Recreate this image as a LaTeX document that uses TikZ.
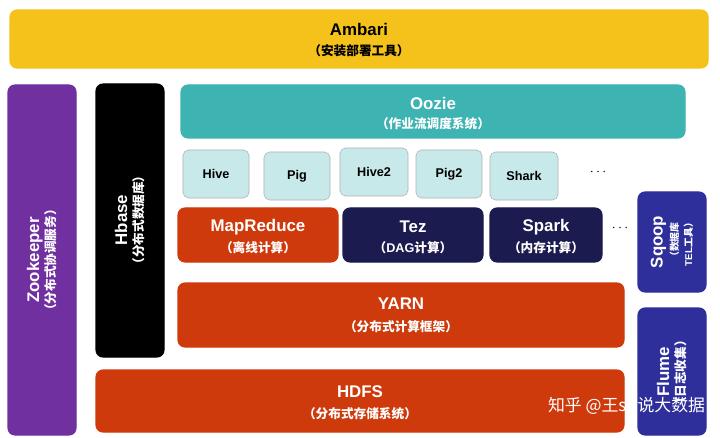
\documentclass[tikz,border=0pt]{standalone}
\usepackage{fontspec}
\setmainfont{Liberation Sans}
\newfontfamily\cjk{Noto Sans CJK SC}
\usepackage{xcolor}
\definecolor{AmbariY}{HTML}{F5C21B}
\definecolor{ZooP}{HTML}{7030A0}
\definecolor{OozieT}{HTML}{3DB3B2}
\definecolor{EngR}{HTML}{CF3A0C}
\definecolor{EngN}{HTML}{1B1B4F}
\definecolor{ToolB}{HTML}{2F2F9C}
\definecolor{LangC}{HTML}{C8E9EA}

\tikzset{
  blk/.style={rounded corners=5pt, draw=white, thick},
  lang/.style={rounded corners=4pt, draw=gray!60, fill=LangC, font=\bfseries\small},
}

\begin{document}
\begin{tikzpicture}[x=0.025cm, y=-0.025cm]
\useasboundingbox (0,0) rectangle (720,438);
\fill[white] (0,0) rectangle (720,438);

% Top
\fill[blk, AmbariY] (10,10) rectangle (708,68);
\node[font=\bfseries\large] (ambari) at (359,29) {Ambari};
\node[font=\cjk\bfseries\small] (ambari_l) at (359,51) {（安装部署工具）};

% Left columns
\fill[blk, ZooP] (8,85) rectangle (76,435);
\node[rotate=90, align=center, text=white, font=\bfseries\large] (zoo) at (42,260)
  {Zookeeper\\[-2pt]{\cjk\small （分布式协调服务）}};
\fill[blk, black] (96,84) rectangle (164,357);
\node[rotate=90, align=center, text=white, font=\bfseries\large] (hbase) at (130,220)
  {Hbase\\[-2pt]{\cjk\small （分布式数据库）}};

% Oozie
\fill[blk, OozieT] (181,85) rectangle (685,138);
\node[text=white, font=\bfseries\large] (oozie) at (433,103) {Oozie};
\node[text=white, font=\cjk\bfseries\small] (oozie_l) at (433,124) {（作业流调度系统）};

% Languages
\node[lang, minimum width=1.65cm, minimum height=1.2cm] (hive) at (216,174) {Hive};
\node[lang, minimum width=1.65cm, minimum height=1.2cm] (pig) at (297,176) {Pig};
\node[lang, minimum width=1.7cm, minimum height=1.2cm] (hive2) at (374,172) {Hive2};
\node[lang, minimum width=1.65cm, minimum height=1.2cm] (pig2) at (449,174) {Pig2};
\node[lang, minimum width=1.7cm, minimum height=1.2cm] (shark) at (524,176) {Shark};
\node[font=\bfseries] (dots1) at (598,172) {$\cdots$};

% Engines
\fill[blk, EngR] (178,208) rectangle (338,262);
\node[text=white, font=\bfseries\large] (mr) at (258,227) {MapReduce};
\node[text=white, font=\cjk\bfseries\small] (mr_l) at (258,248) {（离线计算）};
\fill[blk, EngN] (343,208) rectangle (483,262);
\node[text=white, font=\bfseries\large] (tez) at (413,227) {Tez};
\node[text=white, font=\bfseries\small] (tez_l) at (413,248) {{\cjk（}DAG{\cjk 计算）}};
\fill[blk, EngN] (490,208) rectangle (602,262);
\node[text=white, font=\bfseries\large] (spark) at (546,227) {Spark};
\node[text=white, font=\cjk\bfseries\small] (spark_l) at (546,248) {（内存计算）};
\node[font=\bfseries] (dots2) at (620,228) {$\cdots$};

% YARN / HDFS
\fill[blk, EngR] (178,283) rectangle (624,347);
\node[text=white, font=\bfseries\large] (yarn) at (401,304) {YARN};
\node[text=white, font=\cjk\bfseries\small] (yarn_l) at (401,327) {（分布式计算框架）};
\fill[blk, EngR] (96,370) rectangle (624,432);
\node[text=white, font=\bfseries\large] (hdfs) at (360,392) {HDFS};
\node[text=white, font=\cjk\bfseries\small] (hdfs_l) at (360,414) {（分布式存储系统）};

% Right tools
\fill[blk, ToolB] (638,192) rectangle (706,292);
\node[rotate=90, align=center, text=white, font=\bfseries\large] (sqoop) at (672,242)
  {Sqoop\\[-3pt]{\cjk\scriptsize （数据库}\\[-4pt]{\scriptsize TEL{\cjk 工具）}}};
\fill[blk, ToolB] (638,308) rectangle (706,435);
\node[rotate=90, align=center, text=white, font=\bfseries\large] (flume) at (672,372)
  {Flume\\[-2pt]{\cjk\small （日志收集）}};

% Watermark
\node[text=white, font=\cjk\large, anchor=east] (mark) at (710,406) {知乎 @王sir说大数据};
\end{tikzpicture}
\end{document}
